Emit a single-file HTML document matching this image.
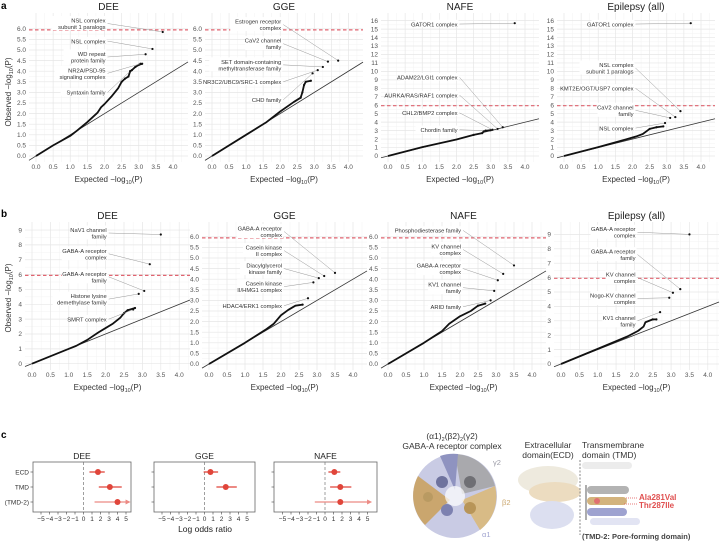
<!DOCTYPE html>
<html><head><meta charset="utf-8">
<style>
body{margin:0;background:#fff;}
svg{display:block;font-family:"Liberation Sans",sans-serif;}
</style></head>
<body>
<svg id="fig" width="720" height="543" viewBox="0 0 720 543" xmlns="http://www.w3.org/2000/svg">
<text x="1" y="9" font-size="10" font-weight="bold">a</text>
<text x="1" y="217" font-size="10" font-weight="bold">b</text>
<text x="1" y="438" font-size="10" font-weight="bold">c</text>
<text transform="translate(11,92) rotate(-90)" text-anchor="middle" font-size="8" fill="#333">Observed −log<tspan font-size="5.5" dy="2">10</tspan><tspan dy="-2">(P)</tspan></text>
<text transform="translate(11,298) rotate(-90)" text-anchor="middle" font-size="8" fill="#333">Observed −log<tspan font-size="5.5" dy="2">10</tspan><tspan dy="-2">(P)</tspan></text>
<g id="qq"></g>
<g id="forest"></g>
<g id="protein">
  <text x="452" y="439" text-anchor="middle" font-size="8.5" fill="#333">(α1)<tspan font-size="5.5" dy="2">2</tspan><tspan dy="-2">(β2)</tspan><tspan font-size="5.5" dy="2">2</tspan><tspan dy="-2">(γ2)</tspan></text>
  <text x="452" y="449" text-anchor="middle" font-size="8.5" fill="#333">GABA-A receptor complex</text>
  <g>
    <circle cx="455" cy="496" r="42" fill="#c9cbe4"/>
    <path d="M455 454 A42 42 0 0 1 495 486 L462 494 Z" fill="#a9a9ad"/>
    <path d="M495 486 A42 42 0 0 1 480 530 L462 500 Z" fill="#d8bb86"/>
    <path d="M418 476 A42 42 0 0 0 425 525 L450 500 Z" fill="#caa66e"/>
    <path d="M440 456 A42 42 0 0 1 458 454 L455 490 Z" fill="#8f93c0"/>
    <circle cx="455" cy="496" r="10" fill="#fff" opacity="0.7"/>
    <circle cx="442" cy="482" r="6" fill="#6f739e"/>
    <circle cx="470" cy="482" r="6" fill="#6f6f74"/>
    <circle cx="447" cy="510" r="6" fill="#7d81b0"/>
    <circle cx="470" cy="508" r="6" fill="#b89558"/>
    <circle cx="428" cy="497" r="5" fill="#b99a62"/>
    <text x="493" y="465" font-size="7.5" fill="#9a9aa6">γ2</text>
    <text x="502" y="505" font-size="7.5" fill="#c9a46a">β2</text>
    <text x="482" y="537" font-size="7.5" fill="#a0a4d0">α1</text>
  </g>
  <text x="548" y="448" text-anchor="middle" font-size="8.5" fill="#333">Extracellular</text>
  <text x="548" y="458" text-anchor="middle" font-size="8.5" fill="#333">domain(ECD)</text>
  <text x="582" y="448" font-size="8.5" fill="#333">Transmembrane</text>
  <text x="582" y="458" font-size="8.5" fill="#333">domain (TMD)</text>
  <g>
    <ellipse cx="548" cy="480" rx="30" ry="14" fill="#eeeade"/>
    <ellipse cx="555" cy="492" rx="26" ry="10" fill="#ecdcc0"/>
    <ellipse cx="552" cy="515" rx="22" ry="14" fill="#dcdff0"/>
    <rect x="582" y="462" width="50" height="7" rx="3.5" fill="#ececec"/>
    <rect x="587" y="486" width="42" height="8" rx="4" fill="#b3b3b3"/>
    <rect x="587" y="497" width="40" height="8" rx="4" fill="#d3b37d"/>
    <circle cx="597" cy="501" r="3" fill="#e07070"/>
    <rect x="587" y="508" width="40" height="8" rx="4" fill="#9ea2d0"/>
    <rect x="590" y="518" width="50" height="7" rx="3.5" fill="#e2e4f3"/>
    <line x1="580" y1="460" x2="580" y2="535" stroke="#888" stroke-dasharray="2,1.5" stroke-width="1"/>
    <line x1="586" y1="485" x2="586" y2="520" stroke="#333" stroke-width="0.8"/>
    <line x1="626" y1="498" x2="638" y2="498" stroke="#e05050" stroke-dasharray="1,1" stroke-width="0.8"/>
    <line x1="624" y1="504" x2="638" y2="504" stroke="#e05050" stroke-dasharray="1,1" stroke-width="0.8"/>
  </g>
  <text x="639" y="500" font-size="8" font-weight="bold" fill="#e05050">Ala281Val</text>
  <text x="639" y="508" font-size="8" font-weight="bold" fill="#e05050">Thr287Ile</text>
  <text x="582" y="539" font-size="7.5" font-weight="bold" fill="#444">(TMD-2: Pore-forming domain)</text>
</g>
</svg>
<script>
// ===== QQ data (expected, observed) =====
const aDeeX=[0,0.5,1,1.2,1.5,1.8,1.9,2.0,2.2,2.4,2.5,2.6,2.7,2.75,2.8,2.9,3.0,3.1];
const aDeeY=[0,0.5,0.95,1.2,1.6,2.05,2.3,2.45,2.8,3.2,3.5,3.65,3.75,4.0,4.05,4.2,4.3,4.35];
const aDeeLab=["NSL complex|subunit 1 paralogs","NSL complex","WD repeat|protein family","NR2A/PSD-95|signaling complex","Syntaxin family"];
const aDeeLabY=[6.25,5.42,4.67,3.9,3.0];
const aDeePtX=[3.7,3.4,3.2,3.05,2.75];
const aDeePtY=[5.85,5.05,4.8,4.35,4.0];

const aGgeX=[0,1,1.6,2.0,2.4,2.6,2.65,2.7,2.75,2.9];
const aGgeY=[0,1,1.6,2.1,2.55,2.75,3.0,3.35,3.5,3.55];
const aGgeLab=["Estrogen receptor|complex","CaV2 channel|family","SET domain-containing|methyltransferase family","NR3C2/UBC9/SRC-1 complex","CHD family"];
const aGgeLabY=[6.2,5.3,4.3,3.5,2.65];
const aGgePtX=[3.7,3.4,3.25,3.1,2.95];
const aGgePtY=[4.5,4.45,4.2,4.05,3.9];

const aNafeX=[0,1,2,2.5,2.75,2.8,3.0];
const aNafeY=[0,1.05,1.95,2.5,2.7,2.95,3.05];
const aNafeLab=["GATOR1 complex","ADAM22/LGI1 complex","AURKA/RAS/RAF1 complex","CHL2/BMP2 complex","Chordin family"];
const aNafeLabY=[15.6,9.3,7.2,5.1,3.1];
const aNafePtX=[3.7,3.35,3.2,3.05,2.85];
const aNafePtY=[15.7,3.4,3.2,3.1,3.0];

const aEpiX=[0,1,1.8,2.1,2.3,2.5,2.7,2.9];
const aEpiY=[0,1.05,1.95,2.3,2.6,3.2,3.4,3.5];
const aEpiLab=["GATOR1 complex","NSL complex|subunit 1 paralogs","KMT2E/OGT/USP7 complex","CaV2 channel|family","NSL complex"];
const aEpiLabY=[15.6,10.4,8.0,5.4,3.3];
const aEpiPtX=[3.7,3.4,3.25,3.1,2.95];
const aEpiPtY=[15.7,5.3,4.6,4.5,3.9];

const bDeeX=[0,1,1.2,1.5,1.8,2.0,2.2,2.4,2.5,2.6,2.8];
const bDeeY=[0,1.0,1.2,1.6,2.1,2.4,2.7,3.1,3.4,3.6,3.75];
const bDeeLab=["NaV1 channel|family","GABA-A receptor|complex","GABA-A receptor|family","Histone lysine|demethylase family","SMRT complex"];
const bDeeLabY=[8.8,7.4,5.85,4.35,3.0];
const bDeePtX=[3.5,3.2,3.05,2.9,2.75];
const bDeePtY=[8.7,6.7,4.9,4.7,3.65];

const bGgeX=[0,1,1.6,1.8,2.0,2.2,2.4,2.6];
const bGgeY=[0,1,1.65,1.9,2.3,2.55,2.75,2.8];
const bGgeLab=["GABA-A receptor|complex","Casein kinase|II complex","Diacylglycerol|kinase family","Casein kinase|II/HMG1 complex","HDAC4/ERK1 complex"];
const bGgeLabY=[6.25,5.35,4.5,3.65,2.75];
const bGgePtX=[3.5,3.2,3.05,2.9,2.75];
const bGgePtY=[4.3,4.15,4.05,3.85,3.1];

const bNafeX=[0,1,1.5,1.7,2.0,2.3,2.5,2.7];
const bNafeY=[0,1,1.55,1.9,2.25,2.5,2.75,2.85];
const bNafeLab=["Phosphodiesterase family","KV channel|complex","GABA-A receptor|complex","KV1 channel|family","ARID family"];
const bNafeLabY=[6.3,5.4,4.5,3.6,2.7];
const bNafePtX=[3.5,3.2,3.05,2.95,2.85];
const bNafePtY=[4.65,4.25,3.95,3.45,3.0];

const bEpiX=[0,1,1.8,2.1,2.25,2.3,2.5,2.6];
const bEpiY=[0,1.05,1.9,2.3,2.6,2.9,3.1,3.1];
const bEpiLab=["GABA-A receptor|complex","GABA-A receptor|family","KV channel|complex","Nogo-KV channel|complex","KV1 channel|family"];
const bEpiLabY=[9.15,7.6,6.0,4.55,3.0];
const bEpiPtX=[3.5,3.25,3.05,2.95,2.7];
const bEpiPtY=[9.0,5.2,4.95,4.6,3.6];

const xTicks=[0,0.5,1,1.5,2,2.5,3,3.5,4];
const yTicksHalf=[0,0.5,1,1.5,2,2.5,3,3.5,4,4.5,5,5.5,6];
const yTicks9=[0,1,2,3,4,5,6,7,8,9];
const yTicks16=[0,1,2,3,4,5,6,7,8,9,10,11,12,13,14,15,16];
const threshold=5.95;

// ===== Forest data =====
const forestCats=["ECD","TMD","(TMD-2)"];
const deeEst=[1.7,3.1,4.0], deeLo=[0.7,1.8,1.3], deeHi=[2.5,4.5,5.3];
const ggeEst=[0.7,2.5,null], ggeLo=[-0.1,1.4,null], ggeHi=[1.6,3.8,null];
const nafeEst=[1.1,1.8,1.8], nafeLo=[0.4,0.6,-1.2], nafeHi=[1.8,3.1,5.3];
const forestTicks=[-5,-4,-3,-2,-1,0,1,2,3,4,5];
const arrowed=[false,false,true];

const NS="http://www.w3.org/2000/svg";
function mk(tag,attrs,parent){const e=document.createElementNS(NS,tag);for(const k in attrs)e.setAttribute(k,attrs[k]);parent.appendChild(e);return e;}

function qq(g,c){
  const sx=v=>c.x0+v*c.xs, sy=v=>c.y0-v*c.ys;
  const pg=mk('g',{},g);
  
  
  for(let v=-0.25;v<=4.4;v+=0.5){const x=sx(v);if(x>c.L&&x<c.R)mk('line',{x1:x,x2:x,y1:c.T,y2:c.B,stroke:'#f3f3f3','stroke-width':0.5},pg);}
  for(let i=0;i<c.yt.length-1;i++){const y=sy((c.yt[i]+c.yt[i+1])/2);mk('line',{x1:c.L,x2:c.R,y1:y,y2:y,stroke:'#f3f3f3','stroke-width':0.5},pg);}
  xTicks.forEach(v=>{const x=sx(v);mk('line',{x1:x,x2:x,y1:c.T,y2:c.B,stroke:'#e6e6e6','stroke-width':0.7},pg);
    const t=mk('text',{x:x,y:c.B+7,'text-anchor':'middle','font-size':6.5,fill:'#555'},pg);t.textContent=v.toFixed(1);});
  c.yt.forEach(v=>{const y=sy(v);mk('line',{x1:c.L,x2:c.R,y1:y,y2:y,stroke:'#e6e6e6','stroke-width':0.7},pg);
    const t=mk('text',{x:c.L-3,y:y+2.2,'text-anchor':'end','font-size':6.5,fill:'#555'},pg);t.textContent=c.half?v.toFixed(1):String(v);});
  const tt=mk('text',{x:(c.L+c.R)/2,y:c.T-3,'text-anchor':'middle','font-size':10,fill:'#222'},pg);tt.textContent=c.title;
  
  
  const xt=mk('text',{x:(c.L+c.R)/2,y:c.B+20,'text-anchor':'middle','font-size':8,fill:'#333'},pg);
  xt.innerHTML='Expected −log<tspan font-size="5.5" dy="2">10</tspan><tspan dy="-2">(P)</tspan>';
  
  
  const dmin=(c.L-c.x0)/c.xs, dmax=(c.R-c.x0)/c.xs;
  const dl=mk('line',{x1:sx(dmin),y1:sy(dmin),x2:sx(dmax),y2:sy(dmax),stroke:'#333','stroke-width':0.8},pg);
  
  
  const thy=sy(threshold);
  const th=mk('line',{x1:c.L,x2:c.R,y1:thy,y2:thy,stroke:'#e06470','stroke-width':1.2,'stroke-dasharray':'3.5,2.5'},pg);
  
  
  const pts=c.X.map((v,i)=>sx(v)+','+sy(c.Y[i])).join(' ');
  const pl=mk('polyline',{points:pts,fill:'none',stroke:'#111','stroke-width':1.8,'stroke-linejoin':'round'},pg);
  
  
  c.X.forEach((v,i)=>{if(v>=2.5){const d=mk('circle',{cx:sx(v),cy:sy(c.Y[i]),r:1.1,fill:'#111'},pg);
    
    }});
  c.lab.forEach((s,i)=>{
    const lines=s.split('|');const ly=sy(c.labY[i]);const rx=sx(2.03);
    const w=Math.max(...lines.map(l=>l.length))*3.0;const h=lines.length*6.5;
    mk('rect',{x:rx-w,y:ly-h/2-1,width:w+1,height:h+1,fill:'#fff'},pg);
    const px=sx(c.ptX[i]),py=sy(c.ptY[i]);
    mk('line',{x1:rx+2,y1:ly,x2:px,y2:py,stroke:'#999','stroke-width':0.5},pg);
    const d=mk('circle',{cx:px,cy:py,r:1.1,fill:'#111'},pg);
    
    
    lines.forEach((l,j)=>{const t=mk('text',{x:rx,y:ly-h/2+5.5+j*6.5,'text-anchor':'end','font-size':5.8,fill:'#333'},pg);t.textContent=l;
      
      });
  });
}
const G=document.getElementById('qq');
qq(G,{name:'qq-a-dee',title:'DEE',x0:36,xs:34.25,y0:156,ys:21.2,L:29,R:188,T:13,B:162,yt:yTicksHalf,half:true,X:aDeeX,Y:aDeeY,lab:aDeeLab,labY:aDeeLabY,ptX:aDeePtX,ptY:aDeePtY});
qq(G,{name:'qq-a-gge',title:'GGE',x0:212,xs:34.1,y0:156,ys:21.2,L:205,R:363,T:13,B:162,yt:yTicksHalf,half:true,X:aGgeX,Y:aGgeY,lab:aGgeLab,labY:aGgeLabY,ptX:aGgePtX,ptY:aGgePtY});
qq(G,{name:'qq-a-nafe',title:'NAFE',x0:388,xs:34.25,y0:156,ys:8.46,L:381,R:539,T:13,B:162,yt:yTicks16,half:false,X:aNafeX,Y:aNafeY,lab:aNafeLab,labY:aNafeLabY,ptX:aNafePtX,ptY:aNafePtY});
qq(G,{name:'qq-a-epilepsy',title:'Epilepsy (all)',x0:564,xs:34.25,y0:156,ys:8.46,L:557,R:715,T:13,B:162,yt:yTicks16,half:false,X:aEpiX,Y:aEpiY,lab:aEpiLab,labY:aEpiLabY,ptX:aEpiPtX,ptY:aEpiPtY});
qq(G,{name:'qq-b-dee',title:'DEE',x0:32,xs:36.8,y0:363.7,ys:14.85,L:25,R:190,T:222,B:370,yt:yTicks9,half:false,X:bDeeX,Y:bDeeY,lab:bDeeLab,labY:bDeeLabY,ptX:bDeePtX,ptY:bDeePtY});
qq(G,{name:'qq-b-gge',title:'GGE',x0:209,xs:36,y0:364,ys:21.2,L:202,R:367,T:222,B:370,yt:yTicksHalf,half:true,X:bGgeX,Y:bGgeY,lab:bGgeLab,labY:bGgeLabY,ptX:bGgePtX,ptY:bGgePtY});
qq(G,{name:'qq-b-nafe',title:'NAFE',x0:388,xs:36,y0:364,ys:21.2,L:381,R:546,T:222,B:370,yt:yTicksHalf,half:true,X:bNafeX,Y:bNafeY,lab:bNafeLab,labY:bNafeLabY,ptX:bNafePtX,ptY:bNafePtY});
qq(G,{name:'qq-b-epilepsy',title:'Epilepsy (all)',x0:561,xs:36.7,y0:364,ys:14.4,L:554,R:719,T:222,B:370,yt:yTicks9,half:false,X:bEpiX,Y:bEpiY,lab:bEpiLab,labY:bEpiLabY,ptX:bEpiPtX,ptY:bEpiPtY});

function forest(g,c){
  const sx=v=>c.z+v*8.5;
  const rowY=[472,487,502];
  const pg=mk('g',{},g);
  
  
  mk('rect',{x:c.L,y:462,width:c.R-c.L,height:50,fill:'#fff',stroke:'#666','stroke-width':0.8},pg);
  const t=mk('text',{x:(c.L+c.R)/2,y:459,'text-anchor':'middle','font-size':8.5,fill:'#222'},pg);t.textContent=c.title;
  mk('line',{x1:sx(0),x2:sx(0),y1:462,y2:512,stroke:'#777','stroke-width':0.7,'stroke-dasharray':'3,2'},pg);
  forestTicks.forEach(v=>{const x=sx(v);mk('line',{x1:x,x2:x,y1:512,y2:514.5,stroke:'#444','stroke-width':0.6},pg);
    const tx=mk('text',{x:x,y:521,'text-anchor':'middle','font-size':6.5,fill:'#333'},pg);tx.textContent=v<0?'−'+(-v):String(v);});
  forestCats.forEach((cat,i)=>{const y=rowY[i];
    mk('line',{x1:c.L-2.5,x2:c.L,y1:y,y2:y,stroke:'#444','stroke-width':0.6},pg);
    if(c.showCats){const tx=mk('text',{x:c.L-4,y:y+2.3,'text-anchor':'end','font-size':6.5,fill:'#333'},pg);tx.textContent=cat;}
    if(c.est[i]===null)return;
    const col=arrowed[i]?'#ec8a84':'#e0453a';
    const x2=sx(c.hi[i]);
    const ln=mk('line',{x1:sx(c.lo[i]),x2:x2,y1:y,y2:y,stroke:col,'stroke-width':1.3},pg);
    
    
    if(arrowed[i])mk('path',{d:`M${x2+2} ${y} L${x2-3} ${y-2.5} L${x2-3} ${y+2.5} Z`,fill:col},pg);
    const d=mk('circle',{cx:sx(c.est[i]),cy:y,r:3,fill:'#e0453a'},pg);
    
    
  });
}
const F=document.getElementById('forest');
forest(F,{name:'forest-dee',title:'DEE',L:33,R:131,z:83.5,est:deeEst,lo:deeLo,hi:deeHi,showCats:true});
forest(F,{name:'forest-gge',title:'GGE',L:154,R:255,z:204.5,est:ggeEst,lo:ggeLo,hi:ggeHi,showCats:false});
forest(F,{name:'forest-nafe',title:'NAFE',L:274,R:377,z:325,est:nafeEst,lo:nafeLo,hi:nafeHi,showCats:false});
const lx=mk('text',{x:205,y:532,'text-anchor':'middle','font-size':8.5,fill:'#222'},F);lx.textContent='Log odds ratio';


</script>
</body></html>
